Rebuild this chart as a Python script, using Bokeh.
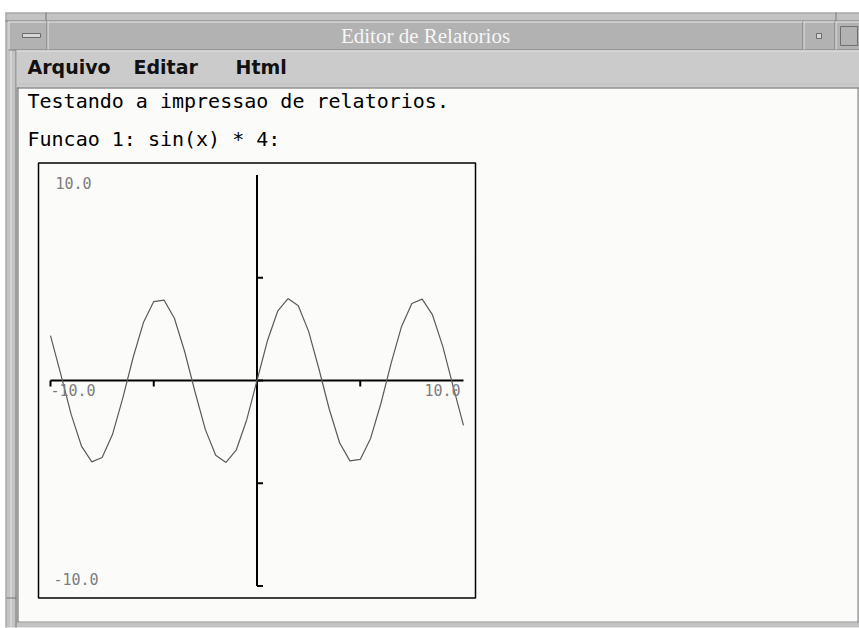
from bokeh.plotting import figure
from bokeh.models import Range1d
from bokeh.core.properties import value
from bokeh.embed import file_html
from bokeh.resources import INLINE

# ---------------- data ----------------
window_title = "Editor de Relatorios"
menu_items = ["Arquivo", "Editar", "Html"]
body_lines = ["Testando a impressao de relatorios.", "Funcao 1: sin(x) * 4:"]

x_values = [-10.0, -9.5, -9.0, -8.5, -8.0, -7.5, -7.0, -6.5, -6.0, -5.5, -5.0,
            -4.5, -4.0, -3.5, -3.0, -2.5, -2.0, -1.5, -1.0, -0.5, 0.0,
            0.5, 1.0, 1.5, 2.0, 2.5, 3.0, 3.5, 4.0, 4.5, 5.0,
            5.5, 6.0, 6.5, 7.0, 7.5, 8.0, 8.5, 9.0, 9.5, 10.0]
y_values = [2.18, 0.30, -1.65, -3.19, -3.96, -3.75, -2.63, -0.86, 1.12, 2.82, 3.84,
            3.91, 3.03, 1.40, -0.56, -2.39, -3.64, -3.99, -3.37, -1.92, 0.00,
            1.92, 3.37, 3.99, 3.64, 2.39, 0.56, -1.40, -3.03, -3.91, -3.84,
            -2.82, -1.12, 0.86, 2.63, 3.75, 3.96, 3.19, 1.65, -0.30, -2.18]

x_min, x_max = -10.0, 10.0
y_min, y_max = -10.0, 10.0
x_ticks = [-10.0, -5.0, 0.0, 5.0]
y_ticks = [-10.0, -5.0, 0.0, 5.0]
x_tick_labels = ["-10.0", "10.0"]
y_tick_labels = ["10.0", "-10.0"]

# ---------------- page geometry ----------------
W, H = 859, 628                 # canvas (Bokeh's page has no body margin)
SX, SY = 20.65, 20.55           # pixels per data unit
OX, OY = 256.5, 380.0           # page position of the data origin
TXT = 6.5                       # rendered text sits this much below the given baseline


def X(px):
    return (px - OX) / SX


def Y(py):
    return (OY - py) / SY


def dx(npx):
    return npx / SX


def dy(npx):
    return npx / SY


p = figure(width=W, height=H, output_backend="svg", toolbar_location=None,
           x_range=Range1d(X(0), X(W)), y_range=Range1d(Y(H), Y(0)),
           x_axis_location=None, y_axis_location=None, min_border=0,
           background_fill_color="white", border_fill_color="white")
p.grid.visible = False
p.outline_line_color = None


def box(x0, y0, x1, y1, fill, line=None, lw=1):
    p.quad(left=[X(x0)], right=[X(x1)], top=[Y(y0)], bottom=[Y(y1)],
           fill_color=fill, line_color=line, line_width=lw)


def hline(x0, x1, y, color, lw=1, dash="solid"):
    p.line([X(x0), X(x1)], [Y(y), Y(y)], line_color=color, line_width=lw, line_dash=dash)


def vline(x, y0, y1, color, lw=1):
    p.line([X(x), X(x)], [Y(y0), Y(y1)], line_color=color, line_width=lw)


# ---------------- window chrome ----------------
FRAME = "#c3c3c3"
TITLE = "#b2b2b2"
MENU = "#cbcbcb"
DARK = "#777777"
LIGHT = "#e6e6e6"
PAPER = "#fbfcfa"

box(5, 12, 870, 627, FRAME)
hline(5, 870, 12.5, "#9a9a9a")
vline(5.5, 12, 627, "#9a9a9a")
hline(5, 870, 20.5, DARK)
vline(45.5, 12, 21, DARK)
vline(835.5, 12, 21, DARK)

# title bar
box(8, 21, 870, 49, TITLE)
hline(8, 870, 21.5, LIGHT)
hline(8, 870, 49.5, DARK)
vline(8.5, 21, 49, LIGHT)
vline(46.5, 21, 49, DARK)
vline(47.5, 21, 49, LIGHT)
box(22, 33, 40, 37, "#d6d6d6", "#6a6a6a")
vline(802.5, 21, 49, DARK)
vline(803.5, 21, 49, LIGHT)
box(816, 33, 821, 38, "#d8d8d8", "#6a6a6a")
vline(834.5, 21, 49, DARK)
vline(835.5, 21, 49, LIGHT)
box(840, 26, 857, 45, TITLE, "#6f6f6f")
p.text(x=[X(425)], y=[Y(42 - TXT)], text=[window_title], text_align="center",
       text_baseline="alphabetic", text_font=value("Liberation Serif"),
       text_font_size="21px", text_color="#f6f6f6")

# left frame strip
vline(10.5, 50, 627, LIGHT)
vline(15.5, 50, 627, DARK)
hline(6, 16, 597.5, DARK)

# menu bar
box(16, 50, 870, 87, MENU)
hline(16, 870, 50.5, LIGHT)
hline(16, 870, 83.5, "#a9a9a9", dash="1 2")
menu_x = [27, 133, 235]
p.text(x=[X(v) for v in menu_x], y=[Y(73 - TXT)] * len(menu_items), text=menu_items,
       text_align="left", text_baseline="alphabetic",
       text_font=value("DejaVu Sans"), text_font_style="bold",
       text_font_size="19px", text_color="#111111")

# content area
box(17, 87, 858, 622, PAPER)
hline(17, 858, 87.5, "#5e5e5e")
vline(17.5, 87, 622, "#5e5e5e")
vline(857.5, 87, 622, "#7a7a7a")
hline(17, 858, 621.5, "#8a8a8a")

p.text(x=[X(27), X(27)], y=[Y(107 - TXT), Y(145 - TXT)], text=body_lines,
       text_align="left", text_baseline="alphabetic",
       text_font=value("DejaVu Sans Mono"), text_font_size="20px",
       text_color="#000000")

# ---------------- the chart ----------------
pad_x, pad_y = dx(12), dy(12)
p.quad(left=[x_min - pad_x], right=[x_max + pad_x], top=[y_max + pad_y],
       bottom=[y_min - pad_y], fill_color=PAPER, line_color="#000000", line_width=1.5)

# axes
p.line([x_min, x_max], [0, 0], line_color="#000000", line_width=2)
p.line([0, 0], [y_min, y_max], line_color="#000000", line_width=2)
tick_x = dy(6)
tick_y = dx(6)
p.segment(x0=x_ticks, y0=[0] * len(x_ticks), x1=x_ticks, y1=[-tick_x] * len(x_ticks),
          line_color="#000000", line_width=2)
p.segment(x0=[0] * len(y_ticks), y0=y_ticks, x1=[tick_y] * len(y_ticks), y1=y_ticks,
          line_color="#000000", line_width=2)

# the function
p.line(x_values, y_values, line_color="#5a5a5a", line_width=1.2)

# range labels
LAB = dict(text_baseline="alphabetic", text_font=value("DejaVu Sans Mono"),
           text_font_size="15px", text_color="#7d7d7d")
p.text(x=[x_min], y=[0 - dy(15 - 6)], text=[x_tick_labels[0]], text_align="left", **LAB)
p.text(x=[x_max - dx(3)], y=[0 - dy(15 - 6)], text=[x_tick_labels[1]], text_align="right", **LAB)
p.text(x=[x_min + dx(5)], y=[y_max - dy(14 - 6)], text=[y_tick_labels[0]], text_align="left", **LAB)
p.text(x=[x_min + dx(3)], y=[y_min + dy(1 + 6)], text=[y_tick_labels[1]], text_align="left", **LAB)

open("out.html", "w").write(file_html(p, INLINE))
